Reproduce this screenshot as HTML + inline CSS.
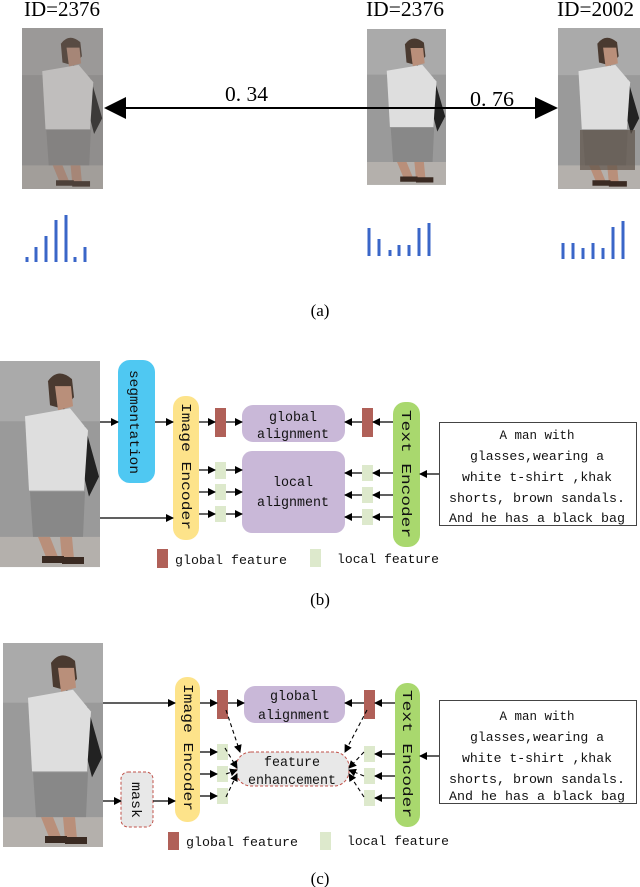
<!DOCTYPE html>
<html><head><meta charset="utf-8"><style>body{margin:0;background:#fff}svg{display:block}</style></head>
<body>
<svg width="640" height="887" viewBox="0 0 640 887" xmlns="http://www.w3.org/2000/svg" font-family="Liberation Mono, monospace">
<defs>
<marker id="ah" markerWidth="8" markerHeight="8" refX="7" refY="4" orient="auto" markerUnits="userSpaceOnUse"><path d="M0,0 L8,4 L0,8 Z" fill="#000"/></marker>
<g id="man">
<rect x="0" y="0" width="100" height="205" fill="#9a9a9a"/>
<rect x="0" y="0" width="100" height="60" fill="#aaaaaa"/>
<rect x="0" y="175" width="100" height="30" fill="#b4b0ac"/>
<path d="M48,20 q10,-14 24,-2 l2,18 l-10,12 l-14,-4 z" fill="#4a3a30"/>
<path d="M55,25 l16,0 l2,20 l-15,4 z" fill="#b98f7a"/>
<path d="M65,55 l20,10 l14,50 l-10,20 l-10,-40 z" fill="#222"/>
<path d="M25,55 l45,-8 l18,22 l-4,60 l-55,0 z" fill="#dedede"/>
<path d="M30,130 l55,0 l-2,45 l-50,0 z" fill="#888"/>
<path d="M38,175 l12,0 l8,20 l-12,0 z M60,175 l12,0 l2,22 l-12,0 z" fill="#b98f7a"/>
<path d="M42,194 l22,0 l0,7 l-22,0 z M62,195 l22,0 l0,7 l-22,0 z" fill="#3a2a22"/>
</g>
</defs>

<!-- (a) -->
<g font-family="Liberation Serif, serif" font-size="21">
<text x="24" y="16" textLength="76" lengthAdjust="spacingAndGlyphs">ID=2376</text>
<text x="366" y="16" textLength="78" lengthAdjust="spacingAndGlyphs">ID=2376</text>
<text x="557" y="16" textLength="77" lengthAdjust="spacingAndGlyphs">ID=2002</text>
<text x="225" y="101" textLength="43" lengthAdjust="spacingAndGlyphs">0. 34</text>
<text x="470" y="106" textLength="44" lengthAdjust="spacingAndGlyphs">0. 76</text>
</g>
<g transform="translate(22,28) scale(0.81,0.785)"><use href="#man"/></g>
<rect x="22" y="28" width="81" height="161" fill="#7a7570" opacity="0.3"/>
<g transform="translate(367,29) scale(0.79,0.76)"><use href="#man"/></g>
<g transform="translate(558,28) scale(0.82,0.785)"><use href="#man"/></g>
<rect x="580" y="130" width="55" height="40" fill="#5e5248" opacity="0.7"/>
<line x1="120" y1="108" x2="540" y2="108" stroke="#000" stroke-width="2"/>
<path d="M104,108 L126,97 L126,119 Z" fill="#000"/>
<path d="M558,108 L535,97 L535,119 Z" fill="#000"/>
<g stroke="#3a66c8" stroke-width="3">
<line x1="27" y1="262" x2="27" y2="257"/><line x1="36" y1="262" x2="36" y2="247"/><line x1="46" y1="262" x2="46" y2="236"/><line x1="56" y1="262" x2="56" y2="220"/><line x1="66" y1="262" x2="66" y2="215"/><line x1="75" y1="262" x2="75" y2="257"/><line x1="85" y1="262" x2="85" y2="247"/>
<line x1="369" y1="256" x2="369" y2="228"/><line x1="379" y1="256" x2="379" y2="239"/><line x1="390" y1="256" x2="390" y2="250"/><line x1="399" y1="256" x2="399" y2="245"/><line x1="409" y1="256" x2="409" y2="245"/><line x1="419" y1="256" x2="419" y2="228"/><line x1="429" y1="256" x2="429" y2="223"/>
<line x1="563" y1="259" x2="563" y2="243"/><line x1="573" y1="259" x2="573" y2="243"/><line x1="583" y1="259" x2="583" y2="248"/><line x1="593" y1="259" x2="593" y2="243"/><line x1="603" y1="259" x2="603" y2="248"/><line x1="613" y1="259" x2="613" y2="227"/><line x1="623" y1="259" x2="623" y2="221"/>
</g>
<text x="320" y="316" font-family="Liberation Serif, serif" font-size="17" text-anchor="middle">(a)</text>

<!-- (b) -->
<g transform="translate(0,361) scale(1,1.005)"><use href="#man"/></g>
<rect x="118" y="360" width="37" height="123" rx="12" fill="#4fc8f2"/>
<rect x="173" y="396" width="26" height="144" rx="12" fill="#fde38a"/>
<rect x="242" y="405" width="103" height="37" rx="11" fill="#c9b8d8"/>
<rect x="242" y="451" width="103" height="82" rx="10" fill="#c9b8d8"/>
<rect x="393" y="402" width="27" height="145" rx="12" fill="#a9d86e"/>
<rect x="439.5" y="422.5" width="197" height="103" fill="#fff" stroke="#444"/>
<g font-size="14" fill="#111">
<text transform="translate(130,370) rotate(90)" textLength="104" lengthAdjust="spacingAndGlyphs">segmentation</text>
<text transform="translate(182,403) rotate(90)" textLength="127" lengthAdjust="spacingAndGlyphs">Image Encoder</text>
<text transform="translate(402,410) rotate(90)" textLength="128" lengthAdjust="spacingAndGlyphs">Text Encoder</text>
<text x="293" y="421" text-anchor="middle" textLength="48" lengthAdjust="spacingAndGlyphs">global</text>
<text x="293" y="438" text-anchor="middle" textLength="72" lengthAdjust="spacingAndGlyphs">alignment</text>
<text x="293" y="486" text-anchor="middle" textLength="40" lengthAdjust="spacingAndGlyphs">local</text>
<text x="293" y="506" text-anchor="middle" textLength="72" lengthAdjust="spacingAndGlyphs">alignment</text>
<g font-size="13">
<text x="537" y="439" text-anchor="middle" textLength="75" lengthAdjust="spacingAndGlyphs">A man with</text>
<text x="537" y="460" text-anchor="middle" textLength="134" lengthAdjust="spacingAndGlyphs">glasses,wearing a</text>
<text x="537" y="481" text-anchor="middle" textLength="150" lengthAdjust="spacingAndGlyphs">white t-shirt ,khak</text>
<text x="537" y="502" text-anchor="middle" textLength="176" lengthAdjust="spacingAndGlyphs">shorts, brown sandals.</text>
<text x="537" y="522" text-anchor="middle" textLength="176" lengthAdjust="spacingAndGlyphs">And he has a black bag</text>
<text x="175" y="564" textLength="112" lengthAdjust="spacingAndGlyphs">global feature</text>
<text x="337" y="563" textLength="102" lengthAdjust="spacingAndGlyphs">local feature</text>
</g>
</g>
<rect x="215" y="408" width="11" height="29" fill="#b06058"/>
<rect x="362" y="408" width="11" height="29" fill="#b06058"/>
<g fill="#dde9cc">
<rect x="215" y="462" width="11" height="17"/><rect x="215" y="484" width="11" height="16"/><rect x="215" y="506" width="11" height="16"/>
<rect x="362" y="465" width="11" height="16"/><rect x="362" y="487" width="11" height="16"/><rect x="362" y="509" width="11" height="16"/>
<rect x="310" y="549" width="11" height="18"/>
</g>
<rect x="157" y="549" width="11" height="19" fill="#b06058"/>
<g stroke="#000" stroke-width="1.2" marker-end="url(#ah)">
<line x1="100" y1="422" x2="118" y2="422"/>
<line x1="155" y1="422" x2="173" y2="422"/>
<line x1="100" y1="518" x2="173" y2="518"/>
<line x1="199" y1="422" x2="215" y2="422"/>
<line x1="226" y1="422" x2="242" y2="422"/>
<line x1="199" y1="470" x2="215" y2="470"/><line x1="199" y1="492" x2="215" y2="492"/><line x1="199" y1="514" x2="215" y2="514"/>
<line x1="226" y1="470" x2="242" y2="470"/><line x1="226" y1="492" x2="242" y2="492"/><line x1="226" y1="514" x2="242" y2="514"/>
<line x1="393" y1="422" x2="373" y2="422"/>
<line x1="362" y1="422" x2="345" y2="422"/>
<line x1="393" y1="473" x2="373" y2="473"/><line x1="393" y1="495" x2="373" y2="495"/><line x1="393" y1="517" x2="373" y2="517"/>
<line x1="362" y1="473" x2="345" y2="473"/><line x1="362" y1="495" x2="345" y2="495"/><line x1="362" y1="517" x2="345" y2="517"/>
<line x1="439" y1="474" x2="420" y2="474"/>
</g>
<text x="320" y="605" font-family="Liberation Serif, serif" font-size="17" text-anchor="middle">(b)</text>

<!-- (c) -->
<g transform="translate(3,643) scale(1,0.995)"><use href="#man"/></g>
<rect x="121" y="772" width="32" height="55" rx="7" fill="#e8e8e8" stroke="#c0524a" stroke-dasharray="3,2"/>
<rect x="175" y="677" width="25" height="145" rx="12" fill="#fde38a"/>
<rect x="244" y="686" width="101" height="37" rx="11" fill="#c9b8d8"/>
<rect x="236" y="752" width="113" height="34" rx="15" fill="#e8e8e8" stroke="#c0524a" stroke-dasharray="3,2"/>
<rect x="395" y="683" width="25" height="144" rx="12" fill="#a9d86e"/>
<rect x="439.5" y="700.5" width="197" height="103" fill="#fff" stroke="#444"/>
<g font-size="14" fill="#111">
<text transform="translate(132,782) rotate(90)" textLength="36" lengthAdjust="spacingAndGlyphs">mask</text>
<text transform="translate(184,684) rotate(90)" textLength="127" lengthAdjust="spacingAndGlyphs">Image Encoder</text>
<text transform="translate(403,690) rotate(90)" textLength="128" lengthAdjust="spacingAndGlyphs">Text Encoder</text>
<text x="294" y="700" text-anchor="middle" textLength="48" lengthAdjust="spacingAndGlyphs">global</text>
<text x="294" y="719" text-anchor="middle" textLength="72" lengthAdjust="spacingAndGlyphs">alignment</text>
<text x="292" y="766" text-anchor="middle" textLength="56" lengthAdjust="spacingAndGlyphs">feature</text>
<text x="292" y="784" text-anchor="middle" textLength="88" lengthAdjust="spacingAndGlyphs">enhancement</text>
<g font-size="13">
<text x="537" y="720" text-anchor="middle" textLength="75" lengthAdjust="spacingAndGlyphs">A man with</text>
<text x="537" y="741" text-anchor="middle" textLength="134" lengthAdjust="spacingAndGlyphs">glasses,wearing a</text>
<text x="537" y="762" text-anchor="middle" textLength="150" lengthAdjust="spacingAndGlyphs">white t-shirt ,khak</text>
<text x="537" y="783" text-anchor="middle" textLength="176" lengthAdjust="spacingAndGlyphs">shorts, brown sandals.</text>
<text x="537" y="800" text-anchor="middle" textLength="176" lengthAdjust="spacingAndGlyphs">And he has a black bag</text>
<text x="186" y="846" textLength="112" lengthAdjust="spacingAndGlyphs">global feature</text>
<text x="347" y="845" textLength="102" lengthAdjust="spacingAndGlyphs">local feature</text>
</g>
</g>
<rect x="217" y="690" width="11" height="29" fill="#b06058"/>
<rect x="364" y="690" width="11" height="29" fill="#b06058"/>
<rect x="168" y="832" width="11" height="18" fill="#b06058"/>
<g fill="#dde9cc">
<rect x="217" y="744" width="11" height="16"/><rect x="217" y="766" width="11" height="16"/><rect x="217" y="788" width="11" height="16"/>
<rect x="364" y="746" width="11" height="16"/><rect x="364" y="768" width="11" height="16"/><rect x="364" y="790" width="11" height="16"/>
<rect x="320" y="832" width="11" height="18"/>
</g>
<g stroke="#000" stroke-width="1.2" marker-end="url(#ah)">
<line x1="103" y1="703" x2="175" y2="703"/>
<line x1="103" y1="801" x2="121" y2="801"/>
<line x1="153" y1="801" x2="175" y2="801"/>
<line x1="200" y1="703" x2="217" y2="703"/>
<line x1="228" y1="703" x2="244" y2="703"/>
<line x1="200" y1="752" x2="217" y2="752"/><line x1="200" y1="774" x2="217" y2="774"/><line x1="200" y1="796" x2="217" y2="796"/>
<line x1="395" y1="703" x2="375" y2="703"/>
<line x1="364" y1="703" x2="345" y2="703"/>
<line x1="395" y1="754" x2="375" y2="754"/><line x1="395" y1="776" x2="375" y2="776"/><line x1="395" y1="798" x2="375" y2="798"/>
<line x1="439" y1="756" x2="420" y2="756"/>
</g>
<g stroke="#000" stroke-width="1.1" stroke-dasharray="4,3" marker-end="url(#ah)">
<line x1="226" y1="710" x2="240" y2="752"/>
<line x1="225" y1="748" x2="237" y2="768"/>
<line x1="226" y1="774" x2="237" y2="770"/>
<line x1="226" y1="797" x2="237" y2="774"/>
<line x1="367" y1="710" x2="345" y2="752"/>
<line x1="364" y1="752" x2="349" y2="768"/>
<line x1="364" y1="776" x2="349" y2="770"/>
<line x1="364" y1="797" x2="349" y2="774"/>
</g>
<text x="320" y="884" font-family="Liberation Serif, serif" font-size="17" text-anchor="middle">(c)</text>
</svg>
</body></html>
